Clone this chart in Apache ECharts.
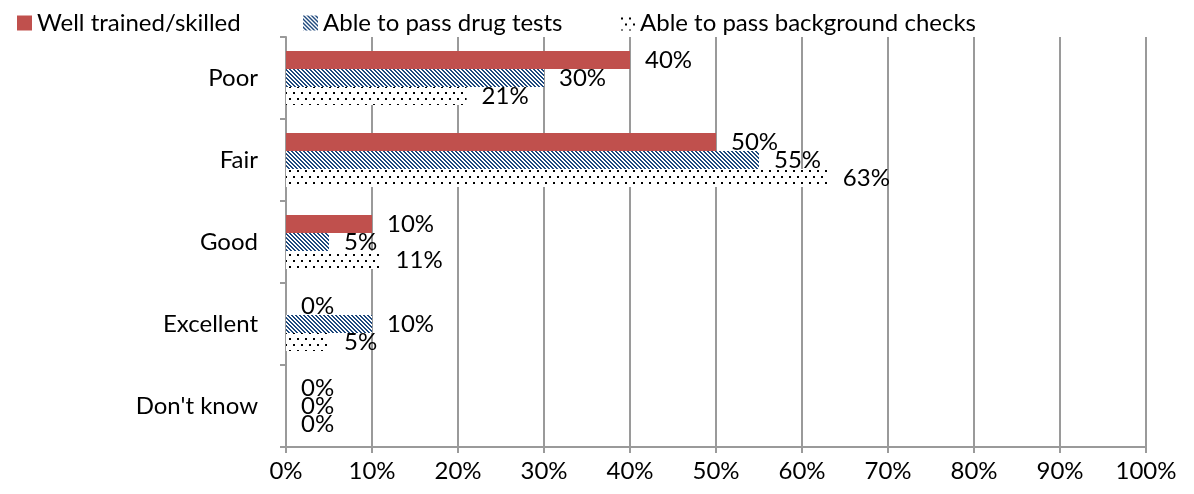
<!DOCTYPE html>
<html>
<head>
<meta charset="utf-8">
<script src="https://cdn.jsdelivr.net/npm/echarts@6/dist/echarts.min.js"></script>
<style>
  html, body { margin: 0; padding: 0; background: #fff; }
  #chart { width: 1194px; height: 494px; }
</style>
</head>
<body>
<div id="chart"></div>
<script>
// Ratings and shares (%) per quality
const categories = ['Poor', 'Fair', 'Good', 'Excellent', "Don't know"];
const wellTrained = [40, 50, 10, 0, 0];
const drugTests = [30, 55, 5, 10, 0];
const backgroundChecks = [21, 63, 11, 5, 0];
const seriesNames = ['Well trained/skilled', 'Able to pass drug tests', 'Able to pass background checks'];

const FONT = 'Lato, "Open Sans", sans-serif';
const FS = 24;

// Diagonal stripe fill (navy on white)
function stripePattern() {
  const c = document.createElement('canvas');
  c.width = 4; c.height = 4;
  const ctx = c.getContext('2d');
  ctx.fillStyle = '#ffffff';
  ctx.fillRect(0, 0, 4, 4);
  ctx.fillStyle = '#1F497D';
  for (let y = 0; y < 4; y++) {
    ctx.fillRect(y, y, 2, 1);
    if (y + 2 > 4) ctx.fillRect(0, y, y + 2 - 4, 1);
  }
  return c;
}

// Sparse dot fill (black on white)
function dotPattern() {
  const c = document.createElement('canvas');
  c.width = 8; c.height = 12;
  const ctx = c.getContext('2d');
  ctx.fillStyle = '#ffffff';
  ctx.fillRect(0, 0, 8, 12);
  ctx.fillStyle = '#000000';
  ctx.fillRect(1, 2, 2, 2);
  ctx.fillRect(5, 8, 2, 2);
  return c;
}

const chart = echarts.init(document.getElementById('chart'));

const labelCfg = {
  show: true,
  position: 'right',
  distance: 15,
  formatter: '{c}%',
  color: '#000',
  fontSize: FS,
  fontFamily: FONT
};

function bar(name, data, color) {
  return {
    name: name,
    type: 'bar',
    data: data,
    barWidth: 18,
    barGap: '0%',
    itemStyle: { color: color },
    label: labelCfg
  };
}

const legendBase = {
  top: 6,
  itemWidth: 15,
  itemHeight: 15,
  itemGap: 6,
  textStyle: { fontSize: FS, fontFamily: FONT, color: '#000' },
  icon: 'rect'
};

chart.setOption({
  animation: false,
  backgroundColor: '#ffffff',
  legend: [
    Object.assign({ left: 12, data: [seriesNames[0]] }, legendBase),
    Object.assign({ left: 298, data: [seriesNames[1]] }, legendBase),
    Object.assign({ left: 615, data: [seriesNames[2]] }, legendBase)
  ],
  grid: { left: 286, right: 48, top: 37, bottom: 47 },
  xAxis: {
    type: 'value',
    min: 0,
    max: 100,
    interval: 10,
    axisLabel: { formatter: '{value}%', fontSize: FS, fontFamily: FONT, color: '#000', margin: 12 },
    axisLine: { show: true, lineStyle: { color: '#9a9a9a', width: 2 } },
    axisTick: { show: true, length: 6, lineStyle: { color: '#9a9a9a', width: 2 } },
    splitLine: { show: true, lineStyle: { color: '#9a9a9a', width: 2 } }
  },
  yAxis: {
    type: 'category',
    data: categories,
    inverse: true,
    axisLabel: { fontSize: FS, fontFamily: FONT, color: '#000', margin: 28 },
    axisLine: { show: true, lineStyle: { color: '#9a9a9a', width: 2 } },
    axisTick: { show: true, length: 6, alignWithLabel: false, lineStyle: { color: '#9a9a9a', width: 2 } },
    splitLine: { show: false }
  },
  series: [
    bar(seriesNames[0], wellTrained, '#C0504D'),
    bar(seriesNames[1], drugTests, { image: stripePattern(), repeat: 'repeat' }),
    bar(seriesNames[2], backgroundChecks, { image: dotPattern(), repeat: 'repeat' })
  ]
});
</script>
</body>
</html>
